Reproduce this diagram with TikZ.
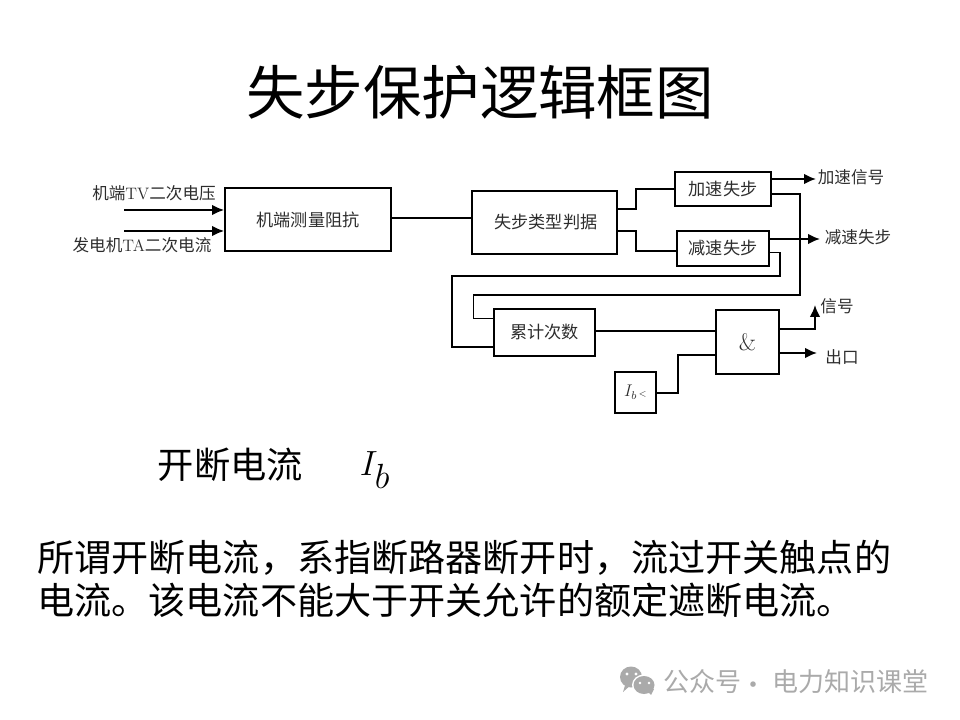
\documentclass[tikz,border=0pt]{standalone}
\usepackage{xcolor}
\usepackage{fontspec}
\newfontfamily\cjk{Noto Sans CJK SC}
\usetikzlibrary{arrows.meta}
\definecolor{qink}{RGB}{45,45,45}
\definecolor{qmark}{RGB}{170,170,170}
\tikzset{
  blockbox/.style={draw=black,line width=1.2pt,minimum width=#1,inner sep=0pt,font=\cjk\fontsize{12.2}{14}\selectfont,text=qink},
  sigline/.style={line width=1.1pt},
  sigarrow/.style={line width=1.3pt,-{Latex[length=8.5pt,width=7.5pt]}},
  siglabel/.style={font=\cjk\fontsize{11.8}{14}\selectfont,text=qink,inner sep=0pt},
  slidetext/.style={font=\cjk\fontsize{26.4}{30}\selectfont,text=black,inner sep=0pt,anchor=west},
}
\begin{document}
\begin{tikzpicture}[x=0.025cm,y=-0.025cm]
\useasboundingbox (0,0) rectangle (960,720);

%title:
 \node[font=\cjk\fontsize{41.6}{46}\selectfont,inner sep=0pt] (title) at (480,92) {失步保护逻辑框图};

%blocks:
 \node[blockbox=118.1pt,minimum height=44.8pt] (measure) at (308,219.5) {机端测量阻抗};
 \node[blockbox=103.1pt,minimum height=44.8pt] (judge) at (544.5,222.5) {\hspace{2pt}失步类型判据};
 \node[blockbox=68.3pt,minimum height=24.2pt] (speedup) at (723,189) {加速失步};
 \node[blockbox=65.4pt,minimum height=24.9pt] (slowdown) at (723,248.5) {减速失步};
 \node[blockbox=71.8pt,minimum height=33.4pt] (counter) at (544.5,332.5) {累计次数};
 \node[blockbox=44.8pt,minimum height=45.5pt] (andgate) at (747.5,342) {\rmfamily\fontsize{17}{19}\selectfont\&};
 \node[blockbox=29.2pt,minimum height=29.2pt] (breaker) at (635.5,392.5) {\rmfamily\fontsize{12}{14}\selectfont$I_b\hspace{1pt}{\scriptscriptstyle<}$};

%free ends:
 \coordinate (involt) at (124,210);
 \coordinate (incurr) at (124,231);
 \coordinate (outspeed) at (816,179);
 \coordinate (outslow) at (820,239);
 \coordinate (outsig) at (815,305);
 \coordinate (outexit) at (817,353);

%labels:
 \node[siglabel] (lblvolt) at (154,193) {机端{\rmfamily TV}二次电压};
 \node[siglabel] (lblcurr) at (142,245) {发电机{\rmfamily TA}二次电流};
 \node[siglabel] (lblspeed) at (851,177) {加速信号};
 \node[siglabel] (lblslow) at (858,237) {减速失步};
 \node[siglabel] (lblsig) at (837,306) {信号};
 \node[siglabel] (lblexit) at (842,357) {出口};

%inputs:
 \draw[sigarrow] (involt) -- (measure.west |- involt);
 \draw[sigarrow] (incurr) -- (measure.west |- incurr);

%connections:
 \draw[sigline] (measure.east |- 0,218) -- (judge.west |- 0,218);
 \draw[sigline] (judge.east |- 0,209) -| (636,189) -- (speedup.west |- 0,189);
 \draw[sigline] (judge.east |- 0,231) -| (636,251) -- (slowdown.west |- 0,251);
 \draw[sigline] (speedup.east |- 0,194) -| (800,295) -| (473.5,318.5) -- (counter.west |- 0,318.5);
 \draw[sigline] (slowdown.east |- 0,252.5) -| (780,276) -| (452,347) -- (counter.west |- 0,347);
 \draw[sigline] (counter.east |- 0,331) -- (andgate.west |- 0,331);
 \draw[sigline] (breaker.east |- 0,393) -| (678,355) -- (andgate.west |- 0,355);

%outputs:
 \draw[sigarrow] (speedup.east |- outspeed) -- (outspeed);
 \draw[sigarrow] (slowdown.east |- outslow) -- (outslow);
 \draw[sigarrow] (andgate.east |- 0,329) -| (outsig);
 \draw[sigarrow] (andgate.east |- outexit) -- (outexit);

%text:
 \node[font=\cjk\fontsize{25.8}{30}\selectfont,inner sep=0pt] (breakname) at (230.5,465) {开断电流};
 \node[font=\fontsize{34}{38}\selectfont,inner sep=0pt] (breaksym) at (375,470) {$I_b$};
 \node[slidetext] (bodya) at (37,558) {所谓开断电流，系指断路器断开时，流过开关触点的};
 \node[slidetext] (bodyb) at (37,600) {电流。该电流不能大于开关允许的额定遮断电流。};

%mark:
 \fill[qmark] (631,677) ellipse (11 and 10.5);
 \fill[qmark] (623,692) -- (626,682) -- (632,684) -- cycle;
 \fill[white] (644,685) ellipse (12 and 10.5);
 \fill[qmark] (644,685) ellipse (10.5 and 9);
 \fill[qmark] (651,695) -- (646,690) -- (654,689) -- cycle;
 \foreach \i in {627,636}{
  \fill[white] (\i,674) circle (1.6);
 }
 \foreach \i in {640,649}{
  \fill[white] (\i,683) circle (1.4);
 }
 \node[font=\cjk\fontsize{18.5}{22}\selectfont,text=qmark,inner sep=0pt,anchor=west] (markname) at (663,682) {公众号};
 \node[font=\cjk\fontsize{18.5}{22}\selectfont,text=qmark,inner sep=0pt] (markdot) at (753,688) {·};
 \node[font=\cjk\fontsize{18.5}{22}\selectfont,text=qmark,inner sep=0pt,anchor=west] (markowner) at (772,682) {电力知识课堂};
\end{tikzpicture}
\end{document}
